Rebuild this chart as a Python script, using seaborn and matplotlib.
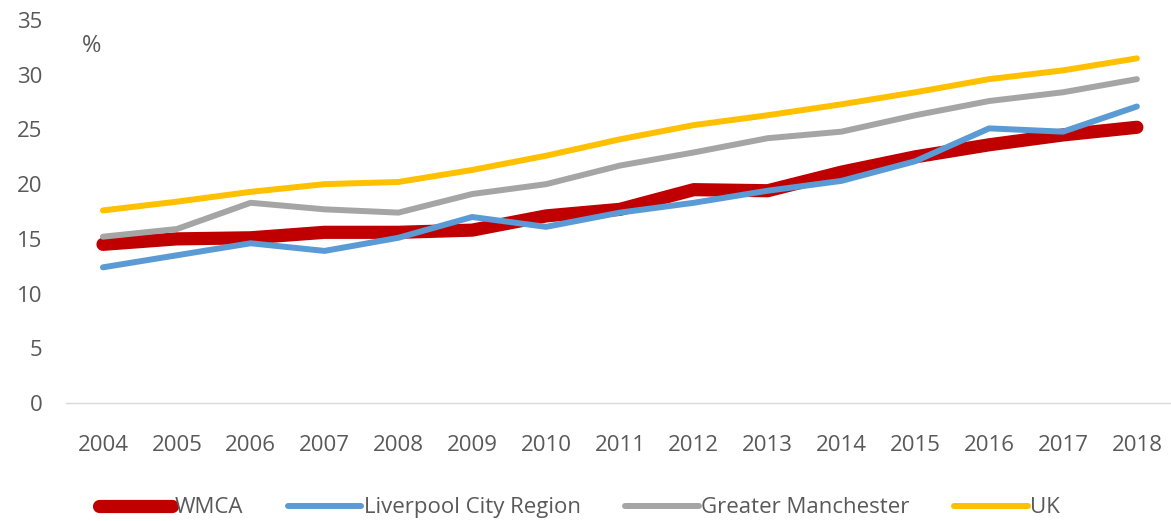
import pandas as pd
import matplotlib
matplotlib.use("Agg")
import matplotlib.pyplot as plt
import seaborn as sns

# values (%)
years = [2004, 2005, 2006, 2007, 2008, 2009, 2010, 2011, 2012, 2013, 2014, 2015, 2016, 2017, 2018]
wmca = [14.5, 15.0, 15.1, 15.6, 15.6, 15.8, 17.1, 17.7, 19.5, 19.4, 21.1, 22.5, 23.6, 24.5, 25.2]
liverpool = [12.4, 13.5, 14.6, 13.9, 15.1, 17.0, 16.1, 17.4, 18.3, 19.4, 20.3, 22.1, 25.1, 24.8, 27.1]
manchester = [15.2, 15.9, 18.3, 17.7, 17.4, 19.1, 20.0, 21.7, 22.9, 24.2, 24.8, 26.3, 27.6, 28.4, 29.6]
uk = [17.6, 18.4, 19.3, 20.0, 20.2, 21.3, 22.6, 24.1, 25.4, 26.3, 27.3, 28.4, 29.6, 30.4, 31.5]

series = {
    "WMCA": wmca,
    "Liverpool City Region": liverpool,
    "Greater Manchester": manchester,
    "UK": uk,
}
colors = {
    "WMCA": "#C00000",
    "Liverpool City Region": "#5B9BD5",
    "Greater Manchester": "#A5A5A5",
    "UK": "#FFC000",
}
widths = {"WMCA": 9.5, "Liverpool City Region": 4.3, "Greater Manchester": 4.3, "UK": 4.3}

sns.set_style("white")
plt.rcParams["font.family"] = ["Open Sans", "DejaVu Sans"]

fig = plt.figure(figsize=(11.71, 5.21), dpi=100)
ax = fig.add_axes([0.0564, 0.2265, 0.946, 0.735])

for name, vals in series.items():
    df = pd.DataFrame({"year": years, "value": vals})
    sns.lineplot(data=df, x="year", y="value", ax=ax, color=colors[name],
                 linewidth=widths[name], label=name, solid_capstyle="round")

ax.set_xlim(2003.5, 2018.5)
ax.set_ylim(0, 35)
ax.set_xticks(years)
ax.set_xticklabels([str(y) for y in years])
ax.set_yticks(range(0, 36, 5))
ax.set_xlabel("")
ax.set_ylabel("")
ax.tick_params(axis="both", colors="#595959", labelsize=16, length=0)
ax.tick_params(axis="x", pad=23)
ax.tick_params(axis="y", pad=17)

for s in ["top", "right", "left"]:
    ax.spines[s].set_visible(False)
ax.spines["bottom"].set_color("#D9D9D9")
ax.spines["bottom"].set_linewidth(1)

ax.text(2003.85, 32.6, "%", fontsize=17, color="#595959", va="center", ha="center")

ax.get_legend().remove()
handles, labels = ax.get_legend_handles_labels()
leg = fig.legend(handles, labels, loc="center", bbox_to_anchor=(0.495, 0.025), ncol=4,
                 frameon=False, fontsize=16, handlelength=3.3, handletextpad=0.12,
                 columnspacing=2.0, borderpad=0, borderaxespad=0)
for t in leg.get_texts():
    t.set_color("#595959")

fig.savefig("out.png", dpi=100)
